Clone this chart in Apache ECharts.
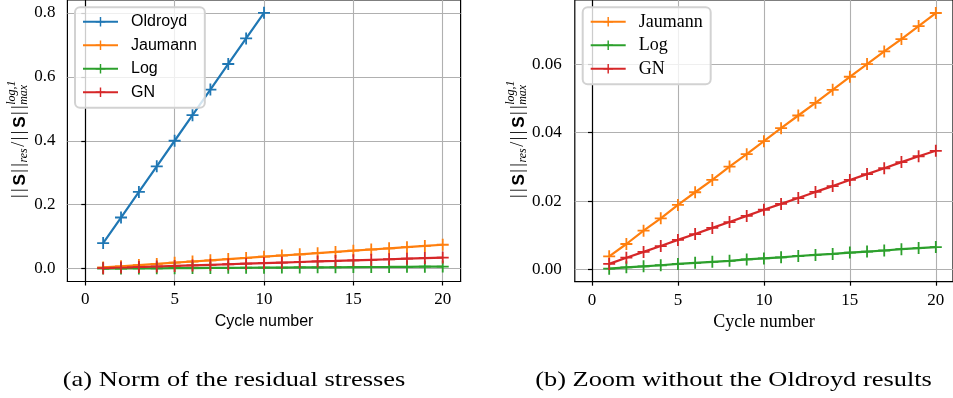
<!DOCTYPE html>
<html>
<head>
<meta charset="utf-8">
<script src="https://cdn.jsdelivr.net/npm/echarts@6/dist/echarts.min.js"></script>
<style>
  html, body { margin: 0; padding: 0; background: #fff; }
  #chart { width: 953px; height: 398px; }
</style>
</head>
<body>
<div id="chart"></div>
<script>
// Residual stress norm per loading cycle, for each objective rate
const cycles = [1, 2, 3, 4, 5, 6, 7, 8, 9, 10, 11, 12, 13, 14, 15, 16, 17, 18, 19, 20];
const oldroyd = [0.08, 0.16, 0.24, 0.32, 0.40, 0.48, 0.56, 0.64, 0.72, 0.80];
const jaumann = [0.0039, 0.0075, 0.0114, 0.0150, 0.0189, 0.0226, 0.0262, 0.0301, 0.0337, 0.0375,
                 0.0413, 0.0450, 0.0487, 0.0525, 0.0563, 0.0600, 0.0637, 0.0673, 0.0711, 0.0749];
const logRate = [0.0003, 0.0007, 0.0010, 0.0013, 0.0017, 0.0020, 0.0023, 0.0026, 0.0030, 0.0033,
                 0.0036, 0.0040, 0.0043, 0.0046, 0.0050, 0.0053, 0.0056, 0.0060, 0.0063, 0.0066];
const gn = [0.0017, 0.0035, 0.0052, 0.0069, 0.0087, 0.0104, 0.0122, 0.0139, 0.0157, 0.0175,
            0.0192, 0.0209, 0.0227, 0.0244, 0.0262, 0.0279, 0.0296, 0.0314, 0.0331, 0.0347];

const xTicks = [0, 5, 10, 15, 20];
const yTicksA = [0, 0.2, 0.4, 0.6, 0.8];
const yTicksB = [0, 0.02, 0.04, 0.06];

const namesA = ['Oldroyd', 'Jaumann', 'Log', 'GN'];
const namesB = ['Jaumann', 'Log', 'GN'];
const captionA = '(a) Norm of the residual stresses';
const captionB = '(b) Zoom without the Oldroyd results';
const xTitle = 'Cycle number';

const COLORS = { Oldroyd: '#1f77b4', Jaumann: '#ff7f0e', Log: '#2ca02c', GN: '#d62728' };
const SERIF = 'Liberation Serif';
const SANS = 'Liberation Sans';

// plus-shaped marker drawn as a filled outline
const PLUS = 'path://M-0.15,-1 L0.15,-1 L0.15,-0.15 L1,-0.15 L1,0.15 L0.15,0.15 L0.15,1 L-0.15,1 L-0.15,0.15 L-1,0.15 L-1,-0.15 L-0.15,-0.15 Z';

function pairs(ys) { return ys.map((v, i) => [cycles[i], v]); }

function makeSeries(name, ys, idx) {
  return {
    type: 'line', name: name, data: pairs(ys),
    xAxisIndex: idx, yAxisIndex: idx,
    symbol: PLUS, symbolSize: 12, showAllSymbol: true,
    color: COLORS[name],
    lineStyle: { width: 2.2, color: COLORS[name] },
    itemStyle: { color: COLORS[name] },
    emphasis: { disabled: true },
    animation: false
  };
}

const tickText = { fontFamily: SERIF, fontSize: 17, color: '#000' };

function xAxis(idx, font, size) {
  return {
    type: 'value', gridIndex: idx, min: -1, max: 21,
    name: xTitle, nameLocation: 'middle', nameGap: 32,
    nameTextStyle: { fontFamily: font, fontSize: size, color: '#000' },
    axisLine: { onZero: false, lineStyle: { color: '#000', width: 1.2 } },
    axisTick: { show: true, length: 4, inside: false, customValues: xTicks, lineStyle: { color: '#000', width: 1.2 } },
    axisLabel: Object.assign({ customValues: xTicks, margin: 10,
                 formatter: v => '{t|' + v + '}', rich: { t: tickText } }, tickText),
    splitLine: { show: true, lineStyle: { color: '#b0b0b0', width: 1.1 } }
  };
}

function yAxis(idx, min, max, ticks, digits, margin) {
  return {
    type: 'value', gridIndex: idx, min: min, max: max,
    axisLine: { show: true, lineStyle: { color: '#000', width: 1.2 } },
    axisTick: { show: true, length: 4, customValues: ticks, lineStyle: { color: '#000', width: 1.2 } },
    axisLabel: Object.assign({ customValues: ticks, margin: margin,
                 formatter: v => '{t|' + Number(v).toFixed(digits) + '}', rich: { t: tickText } }, tickText),
    splitLine: { show: true, lineStyle: { color: '#b0b0b0', width: 1.1 } }
  };
}

// rotated axis title ||S||_res / ||S||^{log,1}_max assembled from text pieces
const measureCtx = document.createElement('canvas').getContext('2d');
function textWidth(t, font) { measureCtx.font = font; return measureCtx.measureText(t).width; }

function yTitle(cx, bottom) {
  const fMain = '18px "' + SERIF + '"';
  const fBold = 'bold 17px "' + SANS + '"';
  const fScript = 'italic 12px "' + SERIF + '"';
  const bar = '|';
  const barGap = 2.4;
  const parts = [];
  let x = 0;
  function put(text, font, dy, gapAfter) {
    parts.push({ type: 'text', x: x, y: dy,
      style: { text: text, font: font, fill: '#000', align: 'left', verticalAlign: 'middle',
               textAlign: 'left', textVerticalAlign: 'middle' } });
    x += textWidth(text, font) + (gapAfter || 0);
  }
  function norm() {
    put(bar, fMain, 0, barGap); put(bar, fMain, 0, barGap + 0.5);
    put('S', fBold, 1, 1.5);
    put(bar, fMain, 0, barGap); put(bar, fMain, 0, 0.5);
  }
  norm();
  put('res', fScript, 5, 1.5);
  put('/', fMain, 0, 1.5);
  norm();
  const x0 = x;
  put('log,1', fScript, -7, 0);
  x = x0;
  put('max', fScript, 5, 0);
  return { type: 'group', x: cx, y: bottom, rotation: Math.PI / 2, children: parts, silent: true };
}

function caption(text, cx, cy) {
  return { type: 'text', x: cx, y: cy, scaleX: 1.2, scaleY: 1, silent: true,
    style: { text: text, font: '22px "' + SERIF + '"', fill: '#000',
             align: 'center', verticalAlign: 'middle', textAlign: 'center', textVerticalAlign: 'middle' } };
}

function legend(names, left, top, font, size, padding) {
  return {
    data: names, orient: 'vertical', left: left, top: top,
    itemWidth: 35, itemHeight: 12, itemGap: 5.5,
    padding: padding,
    backgroundColor: 'rgba(255,255,255,0.8)',
    borderColor: '#d2d2d2', borderWidth: 2, borderRadius: 5,
    selectedMode: false,
    textStyle: { fontFamily: font, fontSize: size, color: '#000', lineHeight: 18, padding: [0, 0, 0, 8] }
  };
}

const chart = echarts.init(document.getElementById('chart'), null, { renderer: 'canvas' });
chart.setOption({
  animation: false,
  backgroundColor: '#fff',
  textStyle: { fontFamily: SERIF },
  grid: [
    { left: 67.4, right: 492.4, top: -0.5, bottom: 116.5, show: true, borderColor: '#000', borderWidth: 1.2, backgroundColor: 'transparent' },
    { left: 574.8, right: -7.4, top: 0, bottom: 116.3, show: true, borderColor: '#000', borderWidth: 1.2, backgroundColor: 'transparent' }
  ],
  xAxis: [xAxis(0, SANS, 16), xAxis(1, SERIF, 18)],
  yAxis: [yAxis(0, -0.04, 0.84, yTicksA, 1, 12), yAxis(1, -0.0035, 0.0787, yTicksB, 2, 13)],
  legend: [
    legend(namesA, 75, 7.3, SANS, 16, [5.5, 8, 6.5, 7]),
    legend(namesB, 582.7, 7.3, SERIF, 18, [5.5, 8, 6.5, 7])
  ],
  series: [
    makeSeries('Oldroyd', oldroyd, 0),
    makeSeries('Jaumann', jaumann, 0),
    makeSeries('Log', logRate, 0),
    makeSeries('GN', gn, 0),
    makeSeries('Jaumann', jaumann, 1),
    makeSeries('Log', logRate, 1),
    makeSeries('GN', gn, 1)
  ],
  graphic: [
    yTitle(19, 198),
    yTitle(518, 198),
    caption(captionA, 234, 380),
    caption(captionB, 733.5, 380)
  ]
});
</script>
</body>
</html>
